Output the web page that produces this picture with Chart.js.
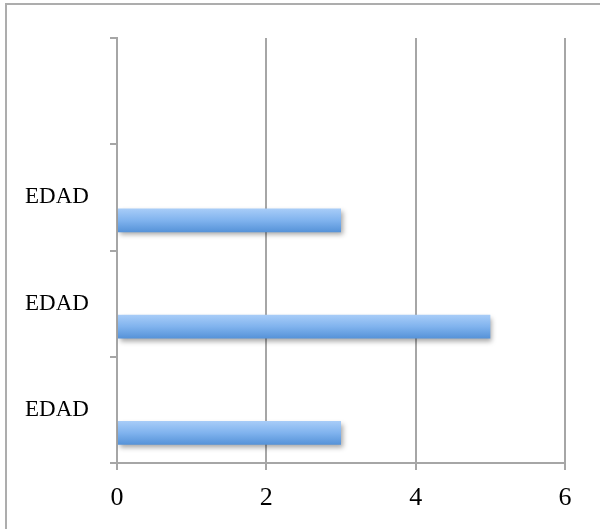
<!DOCTYPE html>
<html>
<head>
<meta charset="utf-8">
<script src="https://cdn.jsdelivr.net/npm/chart.js@4.4.1/dist/chart.umd.min.js"></script>
<style>
  html, body { margin: 0; padding: 0; background: #ffffff; }
  canvas { display: block; }
</style>
</head>
<body>
<canvas id="chart" width="600" height="529"></canvas>
<script>
// Categories from top to bottom (the top slot is left blank)
const categories = ['', 'EDAD', 'EDAD', 'EDAD'];
// Second, empty series keeps the grouped layout of the bars
const emptySeries = [null, null, null, null];
const edadValues = [null, 3, 5, 3];
// Value axis ticks
const xTicks = [0, 2, 4, 6];

const serif = '"Liberation Serif", "DejaVu Serif", serif';
const gridGray = '#a6a6a6';

// Thin frame along the top and left edges of the image
const framePlugin = {
  id: 'frame',
  beforeDraw(chart) {
    const ctx = chart.ctx;
    ctx.save();
    ctx.strokeStyle = '#adadad';
    ctx.lineWidth = 2;
    ctx.beginPath();
    ctx.moveTo(5, 4);
    ctx.lineTo(chart.width, 4);
    ctx.moveTo(6, 3);
    ctx.lineTo(6, chart.height);
    ctx.stroke();
    ctx.restore();
  }
};

// Vertical blue gradient on each bar plus a soft drop shadow
const barStylePlugin = {
  id: 'barStyle',
  beforeDatasetDraw(chart, args) {
    const meta = args.meta;
    const ctx = chart.ctx;
    meta.data.forEach(el => {
      if (!el || el.y == null || isNaN(el.y)) return;
      const h = el.height;
      const g = ctx.createLinearGradient(0, el.y - h / 2, 0, el.y + h / 2);
      g.addColorStop(0, '#a9cdf8');
      g.addColorStop(0.5, '#80b3ee');
      g.addColorStop(1, '#5592d8');
      el.options.backgroundColor = g;
    });
    ctx.save();
    ctx.shadowColor = 'rgba(0,0,0,0.35)';
    ctx.shadowBlur = 5;
    ctx.shadowOffsetX = 2;
    ctx.shadowOffsetY = 3;
  },
  afterDatasetDraw(chart) {
    chart.ctx.restore();
  }
};

new Chart(document.getElementById('chart'), {
  type: 'bar',
  data: {
    labels: categories,
    datasets: [
      { data: emptySeries, backgroundColor: () => '#80b3ee' },
      { data: edadValues, backgroundColor: () => '#80b3ee', borderWidth: 0 }
    ]
  },
  options: {
    indexAxis: 'y',
    responsive: false,
    animation: false,
    events: [],
    layout: { padding: { top: 38, right: 35, left: 25, bottom: 0 } },
    datasets: {
      bar: { categoryPercentage: 0.864, barPercentage: 0.52 }
    },
    plugins: {
      legend: { display: false },
      tooltip: { enabled: false }
    },
    scales: {
      x: {
        min: 0,
        max: 6,
        afterBuildTicks(scale) {
          scale.ticks = xTicks.map(v => ({ value: v }));
        },
        afterFit(scale) { scale.height = 66; },
        grid: {
          color: gridGray,
          lineWidth: 2,
          drawTicks: true,
          tickLength: 7,
          tickColor: gridGray
        },
        border: { display: true, color: gridGray, width: 2 },
        ticks: {
          color: '#000000',
          padding: 13,
          font: { family: serif, size: 26 }
        }
      },
      y: {
        afterFit(scale) { scale.width = 92; },
        grid: {
          offset: true,
          drawOnChartArea: false,
          drawTicks: true,
          tickLength: 7,
          color: gridGray,
          lineWidth: 2
        },
        border: { display: true, color: gridGray, width: 2 },
        ticks: {
          color: '#000000',
          crossAlign: 'far',
          padding: 18,
          font: { family: serif, size: 23 }
        }
      }
    }
  },
  plugins: [framePlugin, barStylePlugin]
});
</script>
</body>
</html>
